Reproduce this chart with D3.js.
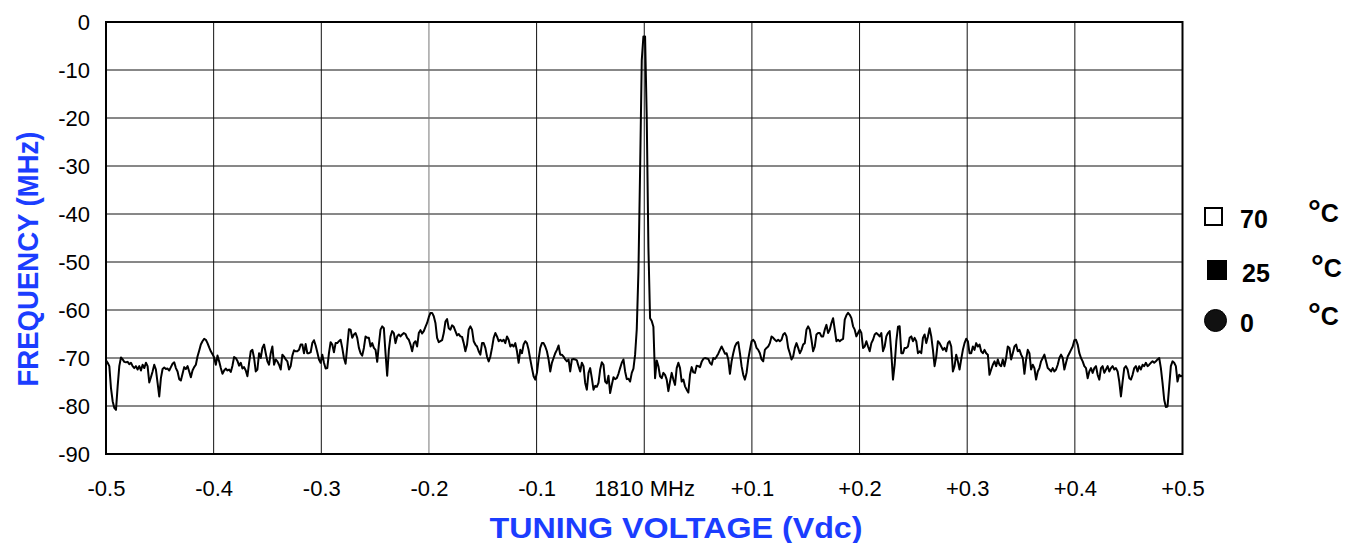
<!DOCTYPE html>
<html><head><meta charset="utf-8">
<script src="https://cdn.jsdelivr.net/npm/d3@7"></script>
<style>
html,body{margin:0;padding:0;background:#fff;}
svg{display:block;font-family:"Liberation Sans",Arial,sans-serif;}
</style></head>
<body><svg id="chart" width="1348" height="543"></svg>
<script>
// ---------- DATA ----------
const sweepStart = -0.5, sweepEnd = 0.5;   // tuning-voltage sweep (Vdc offset)
// measured trace levels, in sweep order
const traceA = [-70.5,-71.0,-71.7,-76.3,-79.0,-80.4,-80.8,-75.9,-71.7,-69.9,-70.3,-70.8,-70.9,-70.8,-71.3,-71.0,-71.7,-72.1,-71.7,-72.4,-71.7,-72.6,-71.4,-72.1,-71.0,-71.7,-75.1,-74.0,-72.8,-71.4,-72.4,-75.2,-78.0,-74.2,-72.3,-72.0,-72.3,-72.2,-72.6,-71.9,-71.2,-70.9,-72.1,-72.8,-74.4,-74.7,-73.3,-71.9,-72.3,-71.7,-72.8,-74.0,-72.6,-71.9,-71.4,-69.7,-68.5,-67.2,-66.5,-66.0,-66.2,-66.9,-67.8,-68.6,-69.2,-69.9,-71.4,-69.5,-70.7,-72.1,-73.3,-72.6,-72.2,-72.6,-72.4,-72.9,-71.6,-69.8,-70.0,-70.6,-71.6,-71.0,-72.2,-71.9,-72.6,-73.8,-71.0,-68.6,-68.3,-70.0,-72.8,-72.4,-69.0,-70.0,-67.9,-67.2,-69.0,-70.7,-71.4,-69.0,-67.6,-71.4,-70.3,-70.7,-71.4,-72.4,-69.3,-69.7];
const traceB = [-70.3,-70.7,-72.4,-71.7,-69.5,-68.4,-68.6,-68.6,-68.3,-67.2,-67.2,-69.0,-67.1,-69.0,-69.0,-68.8,-66.9,-66.3,-67.4,-68.8,-70.3,-71.0,-69.3,-71.0,-72.2,-72.1,-69.0,-66.7,-67.2,-68.8,-66.9,-66.9,-66.5,-66.2,-67.9,-70.0,-71.2,-67.6,-64.0,-64.1,-65.8,-65.1,-64.8,-65.8,-67.9,-69.0,-69.5,-67.9,-65.5,-65.8,-65.8,-67.6,-66.9,-67.9,-68.3,-70.8,-67.2,-64.1,-63.4,-63.8,-69.0,-73.7,-68.3,-65.5,-64.4,-64.8,-66.9,-65.5,-65.1,-65.5,-65.1,-64.8,-65.0,-65.8,-66.2,-67.2,-68.6,-66.9,-66.5,-67.6,-64.8,-64.2,-64.9,-64.4,-63.5,-62.7,-61.5,-60.6,-60.6,-61.3,-62.7,-65.8,-66.7,-66.5,-66.3,-64.8,-62.4,-61.9,-63.8,-64.1,-63.2,-63.5,-64.4,-65.3,-65.0,-65.5,-65.6,-66.9,-68.6,-67.2,-64.1];
const traceC = [-63.4,-64.1,-66.5,-67.2,-67.6,-68.6,-69.3,-66.9,-66.9,-67.9,-69.7,-70.7,-69.7,-67.9,-65.8,-64.8,-65.5,-66.5,-66.2,-66.5,-66.2,-66.9,-65.5,-66.2,-67.6,-67.2,-67.6,-66.9,-68.6,-71.0,-68.3,-69.0,-67.2,-66.5,-66.9,-68.3,-70.3,-72.1,-73.8,-74.5,-73.1,-70.3,-67.9,-66.9,-66.9,-67.6,-68.6,-70.3,-72.8,-71.0,-70.0,-69.0,-68.3,-67.4,-69.3,-69.3,-69.7,-70.3,-70.7,-70.3,-72.8,-70.3,-70.2,-70.3,-70.5,-71.7,-72.8,-71.0,-71.7,-75.2,-76.6,-73.1,-72.1,-74.2,-76.6,-75.8,-76.0,-75.2,-72.4,-70.9,-71.4,-74.9,-75.3,-73.7,-77.3,-75.6,-74.0,-74.4,-74.2,-73.3,-72.1,-71.0,-70.3,-72.8,-74.4,-74.3,-74.9,-73.1,-72.2,-69.3,-64.0,-52.0,-31.0,-8.0,-3.0,-3.0,-20.0,-47.0,-61.7,-62.3,-63.5];
const traceD = [-74.2,-70.5,-71.7,-73.8,-74.2,-73.1,-73.5,-74.5,-76.9,-74.9,-73.1,-74.5,-75.6,-72.1,-71.0,-72.1,-74.9,-74.5,-75.9,-76.6,-77.2,-73.5,-71.9,-73.0,-73.1,-71.6,-71.7,-71.9,-70.8,-70.2,-70.0,-70.1,-70.2,-71.0,-71.4,-70.0,-70.2,-69.7,-69.1,-68.3,-67.6,-68.3,-69.1,-69.0,-70.3,-73.3,-70.7,-69.0,-67.6,-66.9,-66.7,-69.0,-71.7,-73.5,-74.5,-73.1,-70.3,-68.3,-66.5,-66.2,-66.7,-67.9,-68.3,-69.0,-70.3,-70.7,-68.3,-67.9,-67.6,-66.9,-65.5,-65.8,-66.2,-66.5,-66.2,-66.5,-66.2,-65.1,-64.8,-65.5,-67.9,-69.0,-70.3,-69.7,-67.9,-66.9,-67.9,-69.0,-68.3,-67.2,-66.9,-64.1,-63.4,-64.1,-66.2,-68.6,-67.6,-65.1,-64.8,-64.8,-65.5,-65.5,-64.1,-63.1,-64.8,-64.1,-62.7,-61.7,-64.1,-66.5,-66.2];
const traceE = [-66.5,-66.2,-66.0,-62.0,-61.1,-60.6,-61.0,-61.7,-63.4,-64.1,-65.5,-64.8,-64.1,-64.8,-67.9,-67.6,-66.5,-67.6,-68.6,-66.9,-66.2,-65.1,-64.8,-65.1,-65.5,-64.8,-68.6,-67.6,-65.5,-64.8,-64.4,-69.0,-74.5,-71.4,-66.5,-63.5,-63.4,-69.0,-69.0,-67.9,-67.9,-67.6,-65.8,-65.5,-66.5,-65.8,-66.5,-69.0,-68.6,-69.0,-65.8,-65.1,-66.9,-65.5,-63.8,-65.5,-68.3,-71.7,-69.7,-66.5,-66.9,-67.6,-68.3,-67.9,-68.6,-66.9,-66.5,-67.6,-72.8,-71.7,-69.3,-70.7,-72.4,-70.3,-68.3,-66.9,-66.0,-66.5,-69.0,-69.0,-67.6,-68.3,-66.9,-67.6,-67.2,-68.6,-69.0,-68.3,-69.0,-69.3,-73.5,-72.4,-71.4,-70.7,-71.7,-70.3,-71.4,-71.7,-70.3,-71.7,-70.0,-67.6,-67.9,-70.3,-69.0,-67.6,-67.2,-68.6,-68.3,-69.3,-70.0];
const traceF = [-73.3,-70.3,-68.3,-69.0,-72.4,-71.4,-72.1,-74.5,-72.8,-72.1,-70.7,-70.0,-69.3,-70.7,-72.1,-72.4,-72.8,-72.1,-72.8,-72.4,-71.4,-70.0,-69.3,-70.0,-72.4,-71.0,-69.7,-69.0,-68.3,-67.6,-66.3,-66.2,-67.2,-69.0,-70.0,-70.7,-71.7,-72.1,-74.2,-72.8,-72.1,-73.1,-72.1,-71.7,-73.5,-74.5,-72.1,-71.7,-73.1,-72.4,-71.7,-72.8,-72.1,-71.7,-72.4,-72.1,-72.8,-74.9,-78.0,-74.9,-72.1,-71.7,-72.4,-74.2,-74.5,-73.5,-72.1,-71.7,-72.8,-71.7,-72.4,-71.4,-71.7,-71.0,-71.7,-71.4,-71.0,-70.7,-71.0,-70.7,-70.3,-70.0,-72.1,-75.2,-78.7,-80.2,-80.1,-75.9,-71.7,-70.7,-71.0,-71.7,-74.9,-73.5,-73.8,-73.7];

const xTickValues = [-0.5,-0.4,-0.3,-0.2,-0.1,0,0.1,0.2,0.3,0.4,0.5];
const xTickLabels = ["-0.5","-0.4","-0.3","-0.2","-0.1","1810 MHz","+0.1","+0.2","+0.3","+0.4","+0.5"];
const yTickValues = [0,-10,-20,-30,-40,-50,-60,-70,-80,-90];
const yTickLabels = ["0","-10","-20","-30","-40","-50","-60","-70","-80","-90"];
const xTitle = "TUNING VOLTAGE (Vdc)";
const yTitle = "FREQUENCY (MHz)";
const legendLabels = ["70","25","0"];
const legendUnit = "°C";

// ---------- CHART ----------
const levels = [].concat(traceA, traceB, traceC, traceD, traceE, traceF);
const n = levels.length;
const points = levels.map((v, i) => ({x: sweepStart + i * (sweepEnd - sweepStart) / (n - 1), y: v}));

const svg = d3.select("#chart");
const m = {left: 106, right: 1182.5, top: 22, bottom: 454};
const x = d3.scaleLinear().domain([-0.5, 0.5]).range([m.left, m.right]);
const y = d3.scaleLinear().domain([0, -90]).range([m.top, m.bottom]);
const blue = "#1b3dff";

// grid
const g = svg.append("g");
g.selectAll("line.h").data(yTickValues).join("line")
  .attr("x1", m.left).attr("x2", m.right)
  .attr("y1", d => y(d)).attr("y2", d => y(d))
  .attr("stroke", d => d === -60 ? "#8a8a8a" : "#111")
  .attr("stroke-width", d => d === -60 ? 2 : 1);
g.selectAll("line.v").data(xTickValues).join("line")
  .attr("y1", m.top).attr("y2", m.bottom)
  .attr("x1", d => x(d)).attr("x2", d => x(d))
  .attr("stroke", d => d === -0.2 ? "#777" : "#111")
  .attr("stroke-width", 1);

// trace
const line = d3.line().x(d => x(d.x)).y(d => y(d.y));
svg.append("path").datum(points)
  .attr("d", line).attr("fill", "none")
  .attr("stroke", "#000").attr("stroke-width", 2)
  .attr("stroke-linejoin", "round");

// frame
svg.append("rect").attr("x", m.left).attr("y", m.top)
  .attr("width", m.right - m.left).attr("height", m.bottom - m.top)
  .attr("fill", "none").attr("stroke", "#000").attr("stroke-width", 2);

// axes (labels only)
const xAxis = d3.axisBottom(x).tickValues(xTickValues)
  .tickFormat((d, i) => xTickLabels[i]).tickSize(0).tickPadding(0);
const xa = svg.append("g").attr("transform", `translate(0,${m.bottom})`).call(xAxis);
xa.select(".domain").remove();
xa.selectAll("text").attr("y", 0).attr("dy", null).attr("transform", "translate(0,42)")
  .attr("font-size", 22).attr("fill", "#000").attr("font-family", "Liberation Sans, Arial, sans-serif");

const yAxis = d3.axisLeft(y).tickValues(yTickValues)
  .tickFormat((d, i) => yTickLabels[i]).tickSize(0).tickPadding(16);
const ya = svg.append("g").attr("transform", `translate(${m.left},0)`).call(yAxis);
ya.select(".domain").remove();
ya.selectAll("text").attr("dy", "0.36em").attr("font-size", 22).attr("fill", "#000")
  .attr("font-family", "Liberation Sans, Arial, sans-serif");

// titles
svg.append("text").text(xTitle)
  .attr("x", 676).attr("y", 538).attr("text-anchor", "middle")
  .attr("font-size", 30).attr("font-weight", "bold").attr("fill", blue)
  .attr("textLength", 373).attr("lengthAdjust", "spacingAndGlyphs");
svg.append("text").text(yTitle)
  .attr("transform", "translate(38,259) rotate(-90)").attr("text-anchor", "middle")
  .attr("font-size", 30).attr("font-weight", "bold").attr("fill", blue)
  .attr("textLength", 255).attr("lengthAdjust", "spacingAndGlyphs");

// legend
const lg = svg.append("g");
const rowsY = [228, 282, 332];
lg.append("rect").attr("x", 1205).attr("y", 208).attr("width", 17).attr("height", 17)
  .attr("fill", "#fff").attr("stroke", "#000").attr("stroke-width", 2);
lg.append("rect").attr("x", 1207).attr("y", 260).attr("width", 20).attr("height", 20)
  .attr("fill", "#000");
lg.append("circle").attr("cx", 1215.5).attr("cy", 320.5).attr("r", 11)
  .attr("fill", "#111").attr("stroke", "#000").attr("stroke-width", 1);
const lx = [1240, 1242, 1240];
legendLabels.forEach((t, i) => {
  lg.append("text").text(t).attr("x", lx[i]).attr("y", rowsY[i])
    .attr("font-size", 25).attr("font-weight", "bold").attr("fill", "#000");
});
const ux = [1308, 1311, 1308], uy = [222, 277, 325];
legendLabels.forEach((t, i) => {
  const tx = lg.append("text").attr("x", ux[i]).attr("y", uy[i])
    .attr("font-weight", "bold").attr("fill", "#000");
  tx.append("tspan").text(legendUnit[0]).attr("font-size", 32).attr("dy", 0);
  tx.append("tspan").text(legendUnit.slice(1)).attr("font-size", 25).attr("dx", 0);
});
</script></body></html>
